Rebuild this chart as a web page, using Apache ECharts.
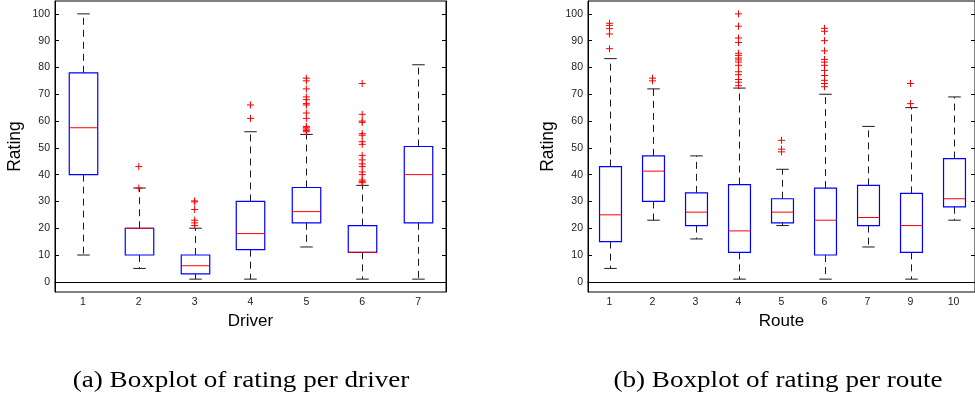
<!DOCTYPE html>
<html>
<head>
<meta charset="utf-8">
<script src="https://cdn.jsdelivr.net/npm/echarts@6/dist/echarts.min.js"></script>
<style>html,body{margin:0;padding:0;background:#fff;}#c{width:975px;height:398px;}</style>
</head>
<body>
<div id="c"></div>
<script>
// ---- data ----
const yTicks = [0, 10, 20, 30, 40, 50, 60, 70, 80, 90, 100];

const driverCats = ['1', '2', '3', '4', '5', '6', '7'];
const driverLow  = [10, 5, 1, 1, 13, 1, 1];
const driverQ1   = [40, 10, 3, 12, 22, 11, 22];
const driverMed  = [57.5, 20, 6, 18, 26.2, 11, 40];
const driverQ3   = [78, 20, 10, 30, 35.2, 21, 50.5];
const driverHigh = [100, 35, 20, 56, 55, 36, 81];
const driverOutliers = [
  [],
  [43, 35],
  [30.2, 29.8, 27, 23, 22, 21],
  [66, 61],
  [76, 75, 72, 69, 68, 66.5, 66, 63, 61, 58, 57.5, 57, 56.5, 56],
  [74, 62.5, 60, 59.5, 55.3, 54.7, 52.3, 51.3, 47.2, 45.5, 44, 43, 41, 40, 38, 37.5, 37],
  []
];

const routeCats = ['1', '2', '3', '4', '5', '6', '7', '9', '10'];
const routeLow  = [5, 23, 16, 1, 21, 1, 13, 1, 23];
const routeQ1   = [15, 30, 21, 11, 22, 10, 21, 11, 28];
const routeMed  = [25, 41.3, 26, 19, 26, 23, 24, 21, 31];
const routeQ3   = [43, 47, 33.2, 36.3, 31, 35, 36, 33, 46];
const routeHigh = [83.3, 72, 47, 72.3, 42, 70, 58, 65, 69];
const routeOutliers = [
  [96.5, 95.7, 94.5, 92.5, 87],
  [76, 75],
  [],
  [100, 95.4, 91, 89.3, 85.3, 84.5, 83.5, 82.8, 82, 80.8, 78.4, 77.3, 75.5, 74.5, 73.2],
  [52.8, 49.5, 48.5],
  [94.6, 93.5, 90, 86.2, 83, 82, 80.8, 78.9, 77, 75.2, 74, 72.8],
  [],
  [74, 66.5],
  []
];

// ---- build ----
function boxRows(lo, q1, md, q3, hi) {
  return lo.map((v, i) => [i, lo[i], q1[i], md[i], q3[i], hi[i]]);
}
function outlierRows(groups) {
  const out = [];
  groups.forEach((g, i) => g.forEach(v => out.push([i, v])));
  return out;
}

const DASH = [7, 5];
function renderBox(params, api) {
  const i = api.value(0);
  const lo = api.coord([i, api.value(1)]);
  const q1 = api.coord([i, api.value(2)]);
  const md = api.coord([i, api.value(3)]);
  const q3 = api.coord([i, api.value(4)]);
  const hi = api.coord([i, api.value(5)]);
  const band = api.size([1, 0])[0];
  const bw = band * 0.51;
  const cw = 12.5;
  const x = Math.round(lo[0]) + 0.5;
  const wStyle = { stroke: '#1a1a1a', lineWidth: 1, lineDash: DASH };
  const cStyle = { stroke: '#1a1a1a', lineWidth: 1 };
  return {
    type: 'group',
    children: [
      { type: 'line', shape: { x1: x, y1: q3[1], x2: x, y2: hi[1] }, style: wStyle },
      { type: 'line', shape: { x1: x, y1: q1[1], x2: x, y2: lo[1] }, style: wStyle },
      { type: 'line', shape: { x1: x - cw / 2, y1: hi[1], x2: x + cw / 2, y2: hi[1] }, style: cStyle },
      { type: 'line', shape: { x1: x - cw / 2, y1: lo[1], x2: x + cw / 2, y2: lo[1] }, style: cStyle },
      { type: 'rect', shape: { x: x - bw / 2, y: q3[1], width: bw, height: q1[1] - q3[1] },
        style: { fill: 'none', stroke: '#0000ff', lineWidth: 1.2 } },
      { type: 'line', shape: { x1: x - bw / 2, y1: md[1], x2: x + bw / 2, y2: md[1] },
        style: { stroke: '#ff0000', lineWidth: 1 } }
    ]
  };
}

const FONT = 'Liberation Sans, Arial, Helvetica, sans-serif';
const YMIN = -3.8, YMAX = 104.8;

function yAxisPair(gridIndex) {
  const base = {
    type: 'value', gridIndex: gridIndex, min: YMIN, max: YMAX,
    splitLine: { show: false },
    axisLine: { show: true, lineStyle: { color: '#000', width: 1 } },
    axisTick: { show: true, inside: true, length: 4, customValues: yTicks, lineStyle: { color: '#000' } }
  };
  return [
    Object.assign({}, base, {
      position: 'left',
      name: 'Rating', nameLocation: 'middle', nameGap: 31, nameRotate: 90,
      nameTextStyle: { fontFamily: FONT, fontSize: 17.5, color: '#000' },
      axisLabel: { show: true, customValues: yTicks, margin: 5, fontFamily: FONT, fontSize: 10.5, color: '#222' }
    }),
    Object.assign({}, base, {
      position: 'right',
      axisLabel: { show: false }
    })
  ];
}

function xAxis(gridIndex, cats, name) {
  return {
    type: 'category', gridIndex: gridIndex, data: cats, boundaryGap: true,
    axisLine: { show: true, lineStyle: { color: '#000', width: 1 } },
    axisTick: { show: false },
    axisLabel: { margin: 5, fontFamily: FONT, fontSize: 10.5, color: '#222' },
    name: name, nameLocation: 'middle', nameGap: 16,
    nameTextStyle: { fontFamily: FONT, fontSize: 17, color: '#000' }
  };
}

const plusSymbol = 'path://M0,4L8,4M4,0L4,8';
function outlierSeries(idx, rows) {
  return {
    type: 'scatter', xAxisIndex: idx, yAxisIndex: idx * 2, data: rows,
    symbol: plusSymbol, symbolSize: 7,
    itemStyle: { color: 'none', borderColor: '#ff0000', borderWidth: 1, opacity: 1 },
    silent: true, z: 3
  };
}
function boxSeries(idx, rows) {
  return {
    type: 'custom', xAxisIndex: idx, yAxisIndex: idx * 2, data: rows,
    renderItem: renderBox, encode: { x: 0, y: [1, 2, 3, 4, 5] }, silent: true, z: 2
  };
}

const ya = yAxisPair(0);
const yb = yAxisPair(1);

const option = {
  animation: false,
  backgroundColor: '#fff',
  grid: [
    { left: 55, top: 1, width: 391, height: 291, show: true, borderColor: '#000', borderWidth: 1, backgroundColor: 'transparent' },
    { left: 588, top: 1, width: 391, height: 291, show: true, borderColor: '#000', borderWidth: 1, backgroundColor: 'transparent' }
  ],
  xAxis: [xAxis(0, driverCats, 'Driver'), xAxis(1, routeCats, 'Route')],
  yAxis: [ya[0], ya[1], yb[0], yb[1]].map((a, k) => Object.assign(a, { gridIndex: k < 2 ? 0 : 1 })),
  series: [
    boxSeries(0, boxRows(driverLow, driverQ1, driverMed, driverQ3, driverHigh)),
    outlierSeries(0, outlierRows(driverOutliers)),
    boxSeries(1, boxRows(routeLow, routeQ1, routeMed, routeQ3, routeHigh)),
    outlierSeries(1, outlierRows(routeOutliers))
  ],
  graphic: [
    { type: 'text', x: 241, y: 381, scaleX: 1.13, silent: true,
      style: { x: 0, y: 0, text: '(a) Boxplot of rating per driver', fill: '#000',
        font: '24px "Liberation Serif", "Times New Roman", serif', textAlign: 'center', textVerticalAlign: 'middle' } },
    { type: 'text', x: 778, y: 381, scaleX: 1.13, silent: true,
      style: { x: 0, y: 0, text: '(b) Boxplot of rating per route', fill: '#000',
        font: '24px "Liberation Serif", "Times New Roman", serif', textAlign: 'center', textVerticalAlign: 'middle' } }
  ]
};

const chart = echarts.init(document.getElementById('c'), null, { renderer: 'canvas' });
chart.setOption(option);
</script>
</body>
</html>
